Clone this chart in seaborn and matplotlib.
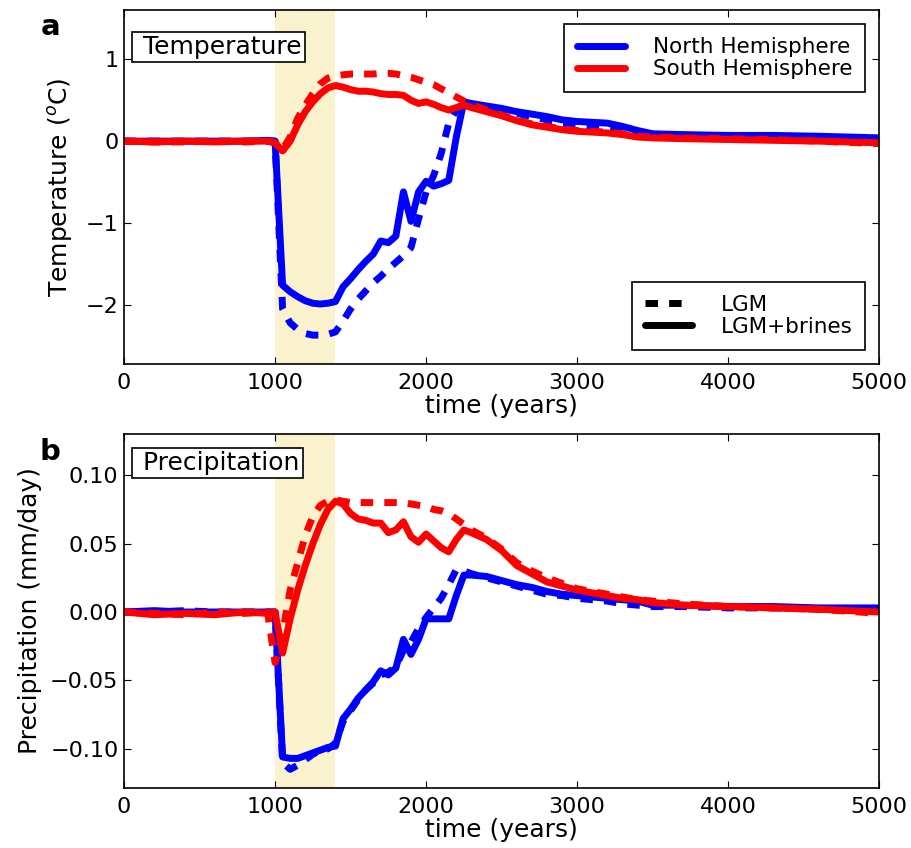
import numpy as np
import pandas as pd
import matplotlib
matplotlib.use("Agg")
import matplotlib.pyplot as plt
from matplotlib.lines import Line2D
import seaborn as sns

# ---------------- data ----------------
time = [0, 200, 400, 600, 800, 950, 1000, 1050, 1100, 1150, 1200, 1250, 1300, 1350,
        1400, 1450, 1500, 1550, 1600, 1650, 1700, 1750, 1800, 1850, 1900, 1950, 2000,
        2050, 2100, 2150, 2200, 2250, 2300, 2400, 2500, 2600, 2700, 2800, 2900, 3000,
        3100, 3200, 3300, 3400, 3500, 3700, 4000, 4300, 4600, 5000]

temp_nh_brines = [0.0, 0.0, 0.0, 0.0, 0.0, 0.01, 0.0, -1.76, -1.84, -1.90, -1.95, -1.98, -1.99, -1.98,
                  -1.96, -1.78, -1.68, -1.57, -1.47, -1.38, -1.22, -1.24, -1.16, -0.62, -0.98, -0.62, -0.49,
                  -0.55, -0.52, -0.48, 0.05, 0.48, 0.46, 0.43, 0.40, 0.36, 0.33, 0.30, 0.26, 0.24,
                  0.23, 0.22, 0.18, 0.13, 0.09, 0.08, 0.07, 0.07, 0.06, 0.04]
temp_nh_lgm = [0.0, 0.0, 0.0, 0.0, 0.0, 0.0, 0.0, -2.05, -2.22, -2.30, -2.35, -2.37, -2.37, -2.36,
               -2.33, -2.20, -2.05, -1.93, -1.83, -1.73, -1.65, -1.56, -1.48, -1.40, -1.30, -0.95, -0.62,
               -0.42, -0.15, 0.22, 0.38, 0.47, 0.45, 0.42, 0.38, 0.34, 0.30, 0.26, 0.22, 0.19,
               0.17, 0.15, 0.12, 0.09, 0.07, 0.05, 0.04, 0.03, 0.01, 0.0]
temp_sh_brines = [0.0, -0.01, 0.0, -0.01, 0.0, 0.0, -0.02, -0.12, 0.0, 0.20, 0.36, 0.48, 0.58, 0.65,
                  0.68, 0.66, 0.63, 0.61, 0.61, 0.60, 0.58, 0.57, 0.57, 0.56, 0.50, 0.46, 0.48,
                  0.45, 0.41, 0.38, 0.41, 0.44, 0.41, 0.36, 0.31, 0.25, 0.20, 0.17, 0.14, 0.12,
                  0.11, 0.10, 0.08, 0.05, 0.04, 0.03, 0.02, 0.01, 0.0, -0.02]
temp_sh_lgm = [0.0, -0.01, -0.01, 0.0, -0.01, 0.0, -0.02, -0.10, 0.05, 0.28, 0.44, 0.58, 0.70, 0.77,
               0.80, 0.81, 0.82, 0.82, 0.82, 0.82, 0.83, 0.83, 0.82, 0.80, 0.78, 0.75, 0.72,
               0.69, 0.64, 0.59, 0.54, 0.49, 0.45, 0.38, 0.32, 0.26, 0.21, 0.18, 0.15, 0.13,
               0.12, 0.11, 0.09, 0.06, 0.05, 0.04, 0.03, 0.02, 0.0, -0.03]

prec_nh_brines = [0.0, 0.001, 0.0, 0.0, 0.0, 0.0, 0.0, -0.106, -0.107, -0.107, -0.105, -0.103, -0.101, -0.099,
                  -0.098, -0.078, -0.071, -0.063, -0.057, -0.051, -0.043, -0.046, -0.041, -0.020, -0.031, -0.020, -0.005,
                  -0.005, -0.005, -0.005, 0.012, 0.027, 0.027, 0.026, 0.023, 0.020, 0.018, 0.015, 0.013, 0.012,
                  0.011, 0.010, 0.009, 0.008, 0.005, 0.005, 0.004, 0.004, 0.003, 0.003]
prec_nh_lgm = [0.0, 0.0, 0.001, 0.0, 0.0, 0.0, 0.0, -0.110, -0.115, -0.112, -0.108, -0.104, -0.101, -0.100,
               -0.096, -0.080, -0.072, -0.064, -0.057, -0.052, -0.046, -0.044, -0.040, -0.028, -0.022, -0.012, -0.004,
               0.003, 0.010, 0.020, 0.031, 0.030, 0.028, 0.025, 0.022, 0.019, 0.016, 0.013, 0.012, 0.010,
               0.009, 0.008, 0.006, 0.005, 0.004, 0.004, 0.003, 0.003, 0.002, 0.002]
prec_sh_brines = [0.0, -0.002, -0.001, -0.002, 0.0, -0.001, 0.0, -0.030, -0.005, 0.016, 0.034, 0.050, 0.064, 0.075,
                  0.081, 0.079, 0.072, 0.068, 0.067, 0.065, 0.065, 0.058, 0.060, 0.066, 0.055, 0.051, 0.057,
                  0.052, 0.047, 0.044, 0.053, 0.060, 0.058, 0.053, 0.045, 0.034, 0.028, 0.022, 0.019, 0.016,
                  0.014, 0.012, 0.010, 0.009, 0.007, 0.005, 0.004, 0.003, 0.002, 0.0]
prec_sh_lgm = [0.0, -0.001, -0.002, 0.0, -0.001, 0.0, -0.037, -0.015, 0.016, 0.036, 0.056, 0.070, 0.078, 0.081,
               0.082, 0.081, 0.080, 0.080, 0.080, 0.080, 0.080, 0.080, 0.080, 0.080, 0.079, 0.078, 0.077,
               0.075, 0.074, 0.072, 0.068, 0.064, 0.060, 0.054, 0.046, 0.036, 0.030, 0.025, 0.021, 0.017,
               0.015, 0.013, 0.011, 0.009, 0.008, 0.006, 0.004, 0.003, 0.002, -0.001]

hemispheres = ["North Hemisphere", "South Hemisphere"]
experiments = ["LGM", "LGM+brines"]


def long_frame(nh_lgm, nh_br, sh_lgm, sh_br):
    parts = []
    for hemi, exp, vals in [(hemispheres[0], experiments[0], nh_lgm),
                            (hemispheres[0], experiments[1], nh_br),
                            (hemispheres[1], experiments[0], sh_lgm),
                            (hemispheres[1], experiments[1], sh_br)]:
        parts.append(pd.DataFrame({"time": time, "value": vals,
                                   "hemisphere": hemi, "experiment": exp}))
    return pd.concat(parts, ignore_index=True)


df_temp = long_frame(temp_nh_lgm, temp_nh_brines, temp_sh_lgm, temp_sh_brines)
df_prec = long_frame(prec_nh_lgm, prec_nh_brines, prec_sh_lgm, prec_sh_brines)

# ---------------- style ----------------
sns.set_style("white")
plt.rcParams.update({
    "font.family": ["DejaVu Sans"],
    "text.color": "black", "axes.labelcolor": "black",
    "xtick.direction": "in", "ytick.direction": "in",
    "xtick.top": True, "ytick.right": True,
    "xtick.bottom": True, "ytick.left": True,
    "xtick.major.size": 5, "ytick.major.size": 5,
    "xtick.major.width": 0.8, "ytick.major.width": 0.8,
    "xtick.major.pad": 6.5, "ytick.major.pad": 4,
    "xtick.color": "black", "ytick.color": "black",
    "axes.edgecolor": "black", "axes.linewidth": 1.2,
    "xtick.labelsize": 16, "ytick.labelsize": 16,
    "axes.labelsize": 18,
})

palette = {hemispheres[0]: "#0000ff", hemispheres[1]: "#ff0000"}
dash_pat = (1.8, 1.6)
dashes = {experiments[0]: dash_pat, experiments[1]: ""}

fig = plt.figure(figsize=(9.12, 8.48), dpi=100)
ax1 = fig.add_axes([0.136, 0.571, 0.828, 0.417])
ax2 = fig.add_axes([0.136, 0.071, 0.828, 0.417])

for ax, df in [(ax1, df_temp), (ax2, df_prec)]:
    ax.axvspan(1000, 1400, color="#faf2cd", lw=0, zorder=0)
    sns.lineplot(data=df, x="time", y="value", hue="hemisphere", style="experiment",
                 palette=palette, dashes=dashes, hue_order=hemispheres,
                 style_order=experiments, linewidth=5, ax=ax, legend=False,
                 estimator=None, sort=False)
    ax.set_xlim(0, 5000)
    ax.set_xticks([0, 1000, 2000, 3000, 4000, 5000])
    ax.set_xlabel("time (years)", labelpad=1)
    for sp in ax.spines.values():
        sp.set_visible(True)
        sp.set_color("black")

ax1.set_ylim(-2.72, 1.6)
ax1.set_yticks([-2, -1, 0, 1])
ax1.set_yticklabels(["\u22122", "\u22121", "0", "1"])
ax1.set_ylabel("Temperature ($^o$C)", labelpad=8)

ax2.set_ylim(-0.1285, 0.13)
ax2.set_yticks([-0.10, -0.05, 0.0, 0.05, 0.10])
ax2.set_yticklabels(["\u22120.10", "\u22120.05", "0.00", "0.05", "0.10"])
ax2.set_ylabel("Precipitation (mm/day)", labelpad=6)

ax1.text(0.015, 0.8955, " Temperature", transform=ax1.transAxes, fontsize=18,
         va="center", ha="left",
         bbox=dict(boxstyle="square,pad=0.12", fc="white", ec="black", lw=1.2))
ax2.text(0.015, 0.918, " Precipitation", transform=ax2.transAxes, fontsize=18,
         va="center", ha="left",
         bbox=dict(boxstyle="square,pad=0.12", fc="white", ec="black", lw=1.2))

fig.text(0.055, 0.9587, "a", fontsize=21, fontweight="bold", ha="center", va="baseline")
fig.text(0.055, 0.4575, "b", fontsize=21, fontweight="bold", ha="center", va="baseline")

hemi_handles = [Line2D([], [], color=palette[h], lw=5) for h in hemispheres]
leg1 = ax1.legend(hemi_handles, hemispheres, loc="upper right", fontsize=15.5,
                  handlelength=2.2, handletextpad=1.3, fancybox=False,
                  edgecolor="black", framealpha=1, borderaxespad=0.65,
                  labelspacing=0.1, borderpad=0.6)
leg1.get_frame().set_linewidth(1.2)

exp_handles = [Line2D([], [], color="black", lw=5, dashes=dash_pat),
               Line2D([], [], color="black", lw=5)]
leg2 = ax1.legend(exp_handles, experiments, loc="lower right", fontsize=15.5,
                  handlelength=2.2, handletextpad=1.3, fancybox=False,
                  edgecolor="black", framealpha=1, borderaxespad=0.65,
                  labelspacing=0.1, borderpad=0.6)
leg2.get_frame().set_linewidth(1.2)
ax1.add_artist(leg1)

fig.savefig("out.png", dpi=100)
